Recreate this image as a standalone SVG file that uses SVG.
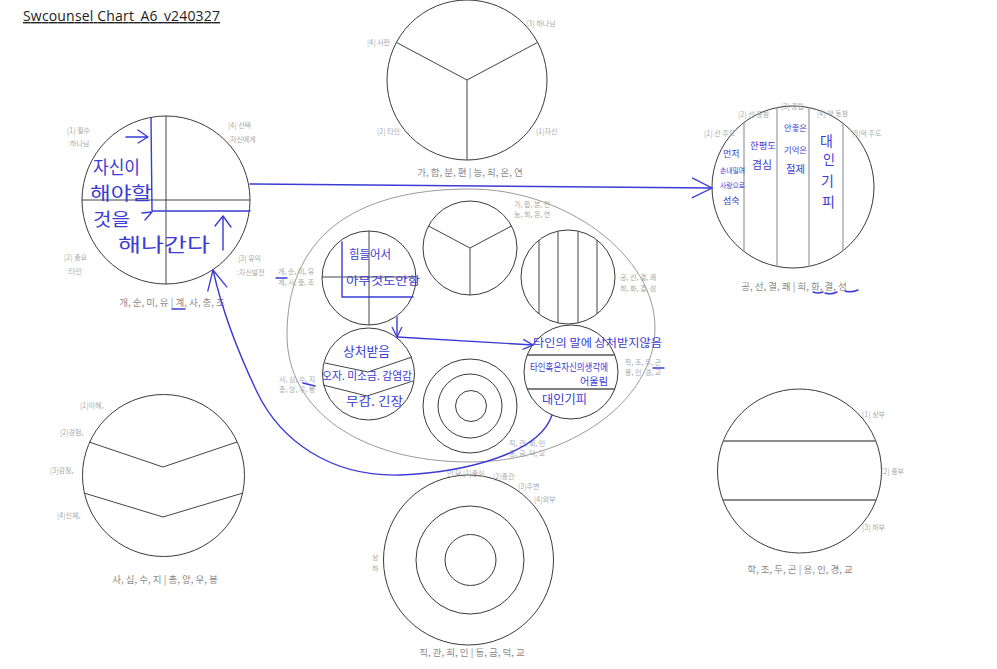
<svg xmlns="http://www.w3.org/2000/svg" width="997" height="669" viewBox="0 0 997 669">
<style>
.c{fill:none;stroke:#3a3a3a;stroke-width:1}
.l{fill:none;stroke:#444;stroke-width:1}
.lg{fill:none;stroke:#9a9a9a;stroke-width:1.2}
.s{font-family:"Noto Sans CJK KR","Noto Sans",sans-serif;font-size:7px;fill:#a8a8a8}
.b{font-family:"Noto Sans CJK KR","Noto Sans",sans-serif;font-size:9.5px;fill:#8a8a8a;text-anchor:middle}
.h{font-family:"Noto Sans CJK KR",sans-serif;fill:#3b3bd6}
.bl{fill:none;stroke:#3b3bd6;stroke-width:1.4;stroke-linecap:round;stroke-linejoin:round}
</style>
<defs>
<marker id="ah" viewBox="0 0 12 12" refX="11" refY="6" markerWidth="12" markerHeight="12" orient="auto" markerUnits="userSpaceOnUse"><path d="M1,1 L11,6 L1,11" fill="none" stroke="#3b3bd6" stroke-width="1.3"/></marker>
<marker id="ahL" viewBox="0 0 22 22" refX="21" refY="11" markerWidth="22" markerHeight="22" orient="auto" markerUnits="userSpaceOnUse"><path d="M1,1 L21,11 L1,21" fill="none" stroke="#3b3bd6" stroke-width="1.3"/></marker>
</defs>
<rect width="997" height="669" fill="#ffffff"/>

<text x="23" y="21" font-family="Open Sans, Noto Sans, sans-serif" font-size="14" fill="#222" text-decoration="underline" textLength="197">Swcounsel Chart_A6_v240327</text>

<!-- Top circle: Y division -->
<g id="node-top">
<circle class="c" cx="467" cy="80" r="80"/>
<path class="l" d="M467,80 L467,160 M467,80 L396.4,42.4 M467,80 L537.6,42.4"/>
<text class="s" x="367" y="45">[4] 사판</text>
<text class="s" x="526" y="26">[3] 하나님</text>
<text class="s" x="377" y="134">[2] 타인</text>
<text class="s" x="536" y="134">[1]자신</text>
<text class="b" x="470" y="176">가, 합, 분, 편 | 능, 희, 온, 연</text>
</g>

<!-- Left circle: cross -->
<g id="node-left">
<circle class="c" cx="166" cy="200" r="84"/>
<path class="l" d="M166,116 L166,284 M82,200 L250,200"/>
<text class="s" x="67" y="133">[1] 필수</text>
<text class="s" x="68" y="146">:하나님</text>
<text class="s" x="228" y="128">[4] 선택</text>
<text class="s" x="228" y="142">:자신에게</text>
<text class="s" x="64" y="260">[2] 중요</text>
<text class="s" x="67" y="274">:타인</text>
<text class="s" x="238" y="261">[3] 유익</text>
<text class="s" x="237" y="275">:자신발전</text>
<text class="b" x="172" y="306">개, 순, 미, 유 | 계, 사, 충, 조</text>
<path class="bl" d="M151,118 L152,211 L250,211"/>
<path class="bl" d="M126,137 L148,137 M138,130 L148,137 L138,143"/>
<path class="bl" d="M142,213 L152,212 L145,220"/>
<path class="bl" d="M223,250 L223,216 M215,226 L223,216 L231,227"/>
<text class="h" x="93" y="174" font-size="18" textLength="47" lengthAdjust="spacingAndGlyphs">자신이</text>
<text class="h" x="90" y="200" font-size="18" textLength="62" lengthAdjust="spacingAndGlyphs">해야할</text>
<text class="h" x="93" y="226" font-size="18" textLength="37" lengthAdjust="spacingAndGlyphs">것을</text>
<text class="h" x="118" y="252" font-size="19" textLength="92" lengthAdjust="spacingAndGlyphs">해나간다</text>
<path class="bl" d="M172,309 L185,309"/>
</g>

<!-- Right circle: vertical stripes -->
<g id="node-right">
<circle class="c" cx="793" cy="187" r="81"/>
<path class="lg" d="M744,122.5 L744,251.5 M777,107.6 L777,266.4 M809,107.6 L809,266.4 M843,123.3 L843,250.7"/>
<text class="s" x="704" y="136">[1] 선 주도</text>
<text class="s" x="738" y="117">[2] 선 동참</text>
<text class="s" x="781" y="109">[3] 중립</text>
<text class="s" x="817" y="116">[4] 악 동참</text>
<text class="s" x="852" y="136">[5]악 주도</text>
<text class="b" x="794" y="290">공, 선, 결, 쾌 | 희, 화, 결, 성</text>
<path class="bl" d="M813,292 Q818,294 823,292 M825,293 Q831,295 837,292 M845,291 Q851,293 858,290"/>
<text class="h" x="723" y="157" font-size="9">먼저</text>
<text class="h" x="720" y="173" font-size="7" textLength="25" lengthAdjust="spacingAndGlyphs">손내밀며</text>
<text class="h" x="720" y="188" font-size="7" textLength="25" lengthAdjust="spacingAndGlyphs">사랑으로</text>
<text class="h" x="723" y="204" font-size="9">섬숙</text>
<text class="h" x="750" y="149" font-size="9" textLength="26" lengthAdjust="spacingAndGlyphs">한평도</text>
<text class="h" x="752" y="169" font-size="11" textLength="20" lengthAdjust="spacingAndGlyphs">겸심</text>
<text class="h" x="784" y="131" font-size="8" textLength="23" lengthAdjust="spacingAndGlyphs">안좋은</text>
<text class="h" x="784" y="153" font-size="8" textLength="23" lengthAdjust="spacingAndGlyphs">기억은</text>
<text class="h" x="786" y="173" font-size="10" textLength="19" lengthAdjust="spacingAndGlyphs">절제</text>
<text class="h" x="820" y="146" font-size="14">대</text>
<text class="h" x="823" y="164" font-size="13">인</text>
<text class="h" x="821" y="186" font-size="14">기</text>
<text class="h" x="822" y="207" font-size="14">피</text>
</g>

<!-- Central ellipse -->
<g id="node-center">
<path d="M470,189 C565,189 655,255 655,328 C655,400 570,462 470,462 C360,462 287,410 287,335 C287,240 350,189 470,189 Z" fill="none" stroke="#9a9a9a" stroke-width="1"/>
</g>

<g id="mini-cross">
<circle class="c" cx="369" cy="278" r="47"/>
<path class="l" d="M369,231 L369,325 M322,277 L416,277"/>
<text class="s" x="278" y="274">개, 순, 미, 유</text>
<text class="s" x="278" y="285">계, 사, 충, 조</text>
<path class="bl" d="M342,242 L342,297 L413,297"/>
<text class="h" x="349" y="259" font-size="12" textLength="42" lengthAdjust="spacingAndGlyphs">힘들어서</text>
<text class="h" x="346" y="285" font-size="11" textLength="74" lengthAdjust="spacingAndGlyphs">아무것도안함</text>
<path class="bl" d="M276,278 L287,278"/>
</g>

<g id="mini-y">
<circle class="c" cx="470" cy="248" r="47"/>
<path class="l" d="M470,248 L470,295 M470,248 L428.5,226 M470,248 L511.5,226"/>
<text class="s" x="514" y="207">가, 합, 분, 편</text>
<text class="s" x="514" y="217">능, 희, 온, 연</text>
</g>

<g id="mini-stripes">
<circle class="c" cx="568" cy="277" r="47"/>
<path class="l" d="M539,240 L539,314 M558,231 L558,323 M578,231 L578,323 M597,240 L597,314"/>
<text class="s" x="620" y="280">공, 선, 결, 쾌</text>
<text class="s" x="620" y="291">희, 화, 결, 성</text>
</g>

<g id="mini-chevron">
<circle class="c" cx="368.5" cy="374" r="46"/>
<path class="l" d="M325,363 L368,372 L412,357 M323,385 L367,396 L413,381"/>
<text class="s" x="279" y="382">사, 심, 수, 지</text>
<text class="s" x="279" y="392">총, 앙, 우, 봉</text>
<path class="bl" d="M303,383 L315,386"/>
<text class="h" x="343" y="356" font-size="13" textLength="47" lengthAdjust="spacingAndGlyphs">상처받음</text>
<text class="h" x="322" y="380" font-size="11" textLength="90" lengthAdjust="spacingAndGlyphs">오자. 미소금. 감염감</text>
<text class="h" x="346" y="406" font-size="12" textLength="57" lengthAdjust="spacingAndGlyphs">무감. 긴장</text>
</g>

<g id="mini-rings">
<circle class="c" cx="470" cy="406" r="47"/>
<circle class="c" cx="470" cy="406" r="32"/>
<circle class="c" cx="471" cy="406" r="15.5"/>
<text class="s" x="509" y="446">직, 관, 희, 인</text>
<text class="s" x="509" y="456">동, 금, 덕, 교</text>
</g>

<g id="mini-bands">
<circle class="c" cx="571" cy="372" r="47"/>
<path d="M527,355 L615,355 M527,389 L615,389" fill="none" stroke="#555" stroke-width="1.5"/>
<text class="s" x="625" y="365">학, 조, 두, 곤</text>
<text class="s" x="625" y="375">용, 인, 경, 교</text>
<path class="bl" d="M653,368 L664,368"/>
<text class="h" x="533" y="347" font-size="11" textLength="129" lengthAdjust="spacingAndGlyphs">타인의 말에 상처받지않음</text>
<text class="h" x="530" y="371" font-size="10" textLength="78" lengthAdjust="spacingAndGlyphs">타인혹은자신의생각에</text>
<text class="h" x="580" y="385" font-size="10" textLength="28" lengthAdjust="spacingAndGlyphs">어울림</text>
<text class="h" x="542" y="404" font-size="12" textLength="45" lengthAdjust="spacingAndGlyphs">대인기피</text>
</g>

<!-- Bottom-left: chevrons -->
<g id="node-bottom-left">
<circle class="c" cx="163.5" cy="475.5" r="81"/>
<path class="l" d="M89,442 L163,467 L237,442 M84,493 L163,517 L243,493"/>
<text class="s" x="80" y="408">[1]이해,</text>
<text class="s" x="60" y="435">[2]경험,</text>
<text class="s" x="50" y="473">[3]감정,</text>
<text class="s" x="57" y="518">[4]신체,</text>
<text class="b" x="165" y="583">사, 심, 수, 지 | 총, 앙, 우, 봉</text>
</g>

<!-- Bottom: concentric -->
<g id="node-bottom">
<circle class="c" cx="468.5" cy="560" r="85"/>
<circle class="c" cx="470" cy="560" r="54"/>
<circle class="c" cx="470.5" cy="560" r="25.5"/>
<text class="s" x="447" y="476">인 덕 [1]중심</text>
<text class="s" x="493" y="479">[2]중간</text>
<text class="s" x="518" y="489">[3]주변</text>
<text class="s" x="534" y="502">[4]외부</text>
<text class="s" x="372" y="560">상</text>
<text class="s" x="372" y="571">하</text>
<text class="b" x="472" y="656">직, 관, 희, 인 | 동, 금, 덕, 교</text>
</g>

<!-- Bottom-right: horizontal bands -->
<g id="node-bottom-right">
<circle class="c" cx="799.5" cy="471" r="82"/>
<path d="M723,441 L876,441 M723,500 L876,500" fill="none" stroke="#666" stroke-width="1.3"/>
<text class="s" x="862" y="417">[1] 상부</text>
<text class="s" x="881" y="474">[2] 중부</text>
<text class="s" x="862" y="530">[3] 하부</text>
<text class="b" x="800" y="573">학, 조, 두, 곤 | 용, 인, 경, 교</text>
</g>

<!-- Connectors -->
<g id="connectors">
<path class="bl" d="M250,184 L712,188" marker-end="url(#ahL)"/>
<path class="bl" d="M397,317 L397,337" marker-end="url(#ah)"/>
<path class="bl" d="M397,337 L533,345" marker-end="url(#ah)"/>
<path class="bl" d="M552,415 C540,452 470,472 400,475 C330,477 280,440 257,392 C237,350 222,310 213,270" marker-end="url(#ahL)"/>
</g>
</svg>
